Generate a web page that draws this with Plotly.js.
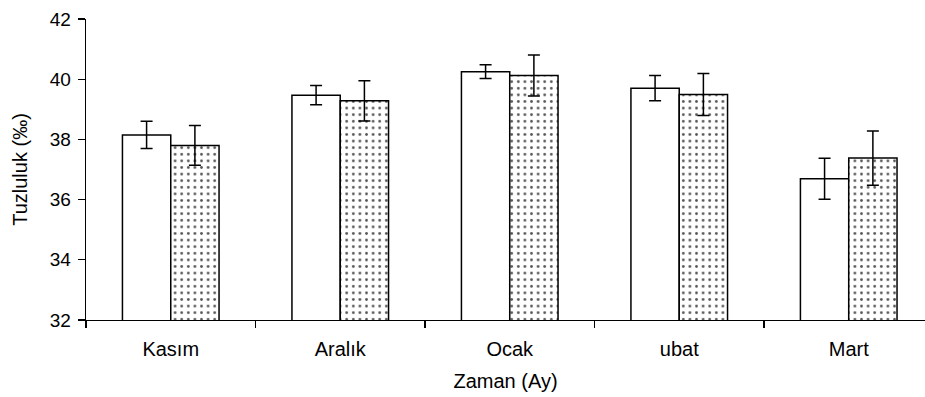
<!DOCTYPE html>
<html>
<head>
<meta charset="utf-8">
<script src="https://cdn.plot.ly/plotly-3.0.1.min.js"></script>
<style>html,body{margin:0;padding:0;background:#fff;}#chart{width:925px;height:397px;}</style>
</head>
<body>
<div id="chart"></div>
<script>
const categories = ["Kasım", "Aralık", "Ocak", "ubat", "Mart"];
const seriesA = [38.15, 39.47, 40.25, 39.70, 36.69];
const errA = [0.45, 0.32, 0.23, 0.42, 0.68];
const seriesB = [37.80, 39.28, 40.12, 39.49, 37.38];
const errB = [0.66, 0.67, 0.68, 0.70, 0.90];
const yTicks = [32, 34, 36, 38, 40, 42];

const errStyle = {type: 'data', visible: true, color: '#000', thickness: 1.5, width: 6};

const traces = [
  {type: 'bar', x: categories, y: seriesA, name: 'A',
   error_y: Object.assign({array: errA}, errStyle),
   marker: {color: '#ffffff', line: {color: '#000', width: 1.5}}},
  {type: 'bar', x: categories, y: seriesB, name: 'B',
   error_y: Object.assign({array: errB}, errStyle),
   marker: {color: '#ffffff', line: {color: '#000', width: 1.5},
            pattern: {shape: '.', fgcolor: '#555', bgcolor: '#ffffff', size: 6.6, solidity: 0.14}}}
];

const layout = {
  width: 925, height: 397,
  margin: {l: 86, r: 0, t: 19, b: 77},
  paper_bgcolor: '#fff', plot_bgcolor: '#fff',
  showlegend: false,
  barmode: 'group', bargap: 0.43, bargroupgap: 0,
  font: {family: '"Liberation Sans", Arial, sans-serif', color: '#000'},
  xaxis: {
    type: 'category', range: [-0.5, 4.45],
    showline: true, linecolor: '#000', linewidth: 1.4,
    ticks: 'outside', tickson: 'boundaries', ticklen: 7, tickwidth: 1.4, tickcolor: '#000',
    ticklabelstandoff: 11,
    showgrid: false, zeroline: false,
    tickfont: {size: 20},
    title: {text: 'Zaman (Ay)', font: {size: 20}, standoff: 14}
  },
  yaxis: {
    range: [32, 42], tickvals: yTicks, ticktext: yTicks.map(String),
    showline: true, linecolor: '#000', linewidth: 1.4,
    ticks: 'outside', ticklen: 7, tickwidth: 1.4, tickcolor: '#000',
    ticklabelstandoff: 3,
    showgrid: false, zeroline: false,
    tickfont: {size: 19},
    title: {text: 'Tuzluluk (‰)', font: {size: 20}, standoff: 16}
  }
};

Plotly.newPlot('chart', traces, layout, {staticPlot: true});
</script>
</body>
</html>
